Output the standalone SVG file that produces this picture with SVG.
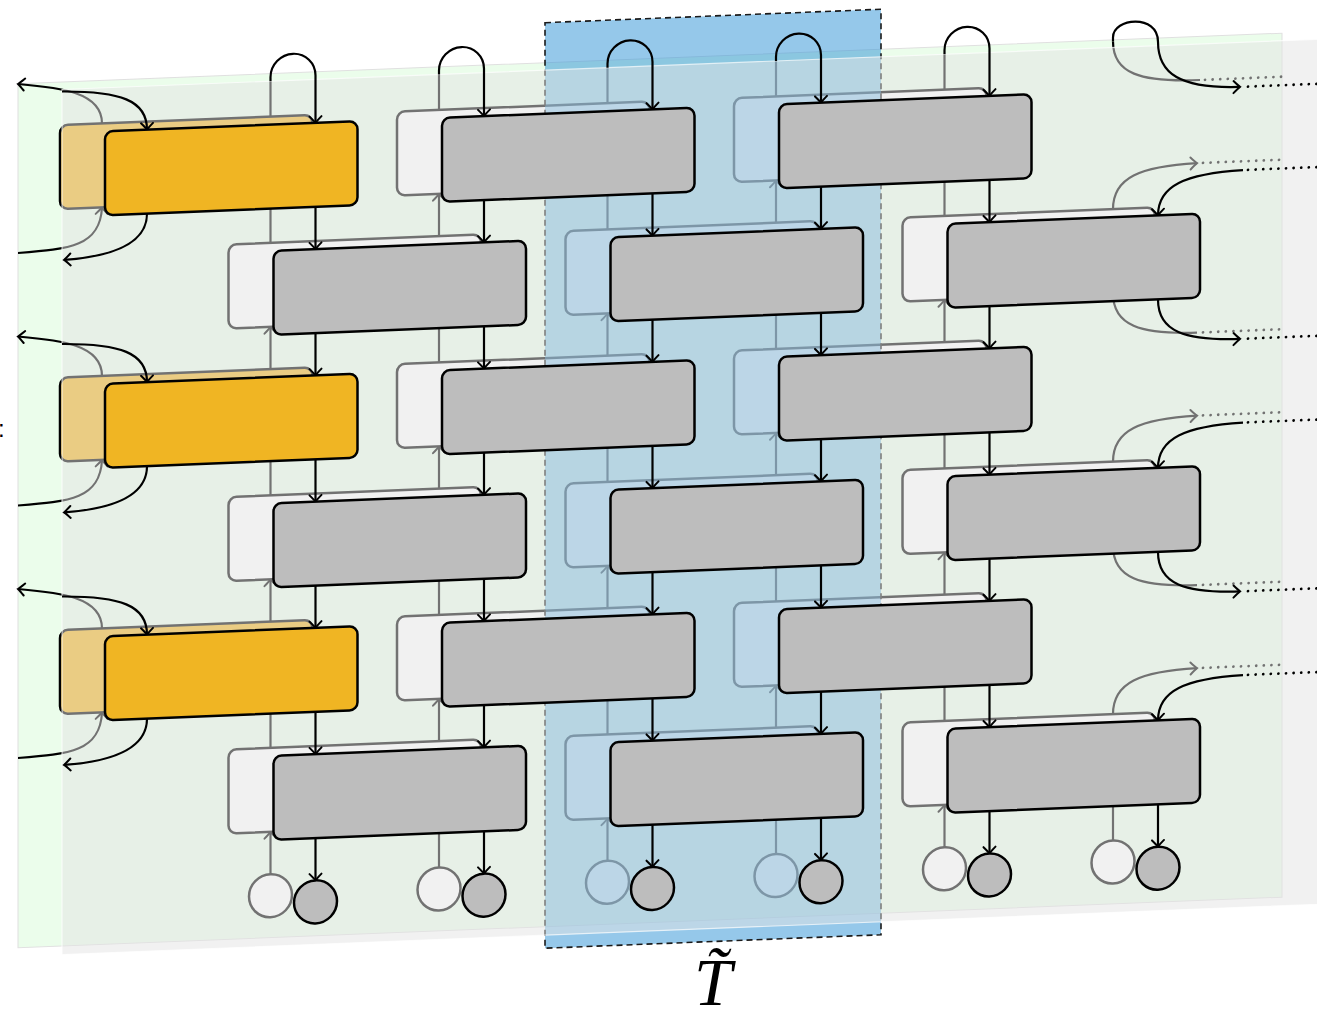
<svg xmlns="http://www.w3.org/2000/svg" width="1317" height="1021" viewBox="0 0 1317 1021">
<defs>
<marker id="ah" viewBox="-8 -8 16 16" markerWidth="16" markerHeight="16" refX="0" refY="0" orient="auto" markerUnits="userSpaceOnUse" overflow="visible"><path d="M-6.5,-6 Q-2,-1.5 0,0 Q-2,1.5 -6.5,6" fill="none" stroke="#000" stroke-width="2" stroke-linecap="round"/></marker>
<style>
.gf{fill:#bdbdbd;stroke:#000;stroke-width:2.5}
.yf{fill:#f0b523;stroke:#000;stroke-width:2.5}
.gb{fill:#fff;stroke:#000;stroke-width:2.5}
.yb{fill:#f0b523;stroke:#000;stroke-width:2.5}
.ln{fill:none;stroke:#000;stroke-width:2.2}
.ar{marker-end:url(#ah)}
.dot{fill:none;stroke:#000;stroke-width:2.8;stroke-linecap:round;stroke-dasharray:0 7.6}
</style>
</defs>
<rect width="1317" height="1021" fill="#fff"/>
<g transform="matrix(1,-0.04,0,1,0,0)">
<rect id="back-plane" x="18" y="84.5" width="1264" height="864" fill="#ebfdeb" stroke="#e0e0e0" stroke-width="1"/>
<g id="back-connectors">
<path class="ln" d="M270.5,127.5V92"/><path class="ln ar" d="M270.5,253.75V211.5"/><path class="ln ar" d="M270.5,380V337.75"/><path class="ln ar" d="M270.5,506.25V464"/><path class="ln ar" d="M270.5,632.5V590.25"/><path class="ln ar" d="M270.5,758.75V716.5"/><path class="ln ar" d="M270.5,885V842.75"/>
<path class="ln" d="M439,127.5V92"/><path class="ln ar" d="M439,253.75V211.5"/><path class="ln ar" d="M439,380V337.75"/><path class="ln ar" d="M439,506.25V464"/><path class="ln ar" d="M439,632.5V590.25"/><path class="ln ar" d="M439,758.75V716.5"/><path class="ln ar" d="M439,885V842.75"/>
<path class="ln" d="M607.5,127.5V92"/><path class="ln ar" d="M607.5,253.75V211.5"/><path class="ln ar" d="M607.5,380V337.75"/><path class="ln ar" d="M607.5,506.25V464"/><path class="ln ar" d="M607.5,632.5V590.25"/><path class="ln ar" d="M607.5,758.75V716.5"/><path class="ln ar" d="M607.5,885V842.75"/>
<path class="ln" d="M776,127.5V92"/><path class="ln ar" d="M776,253.75V211.5"/><path class="ln ar" d="M776,380V337.75"/><path class="ln ar" d="M776,506.25V464"/><path class="ln ar" d="M776,632.5V590.25"/><path class="ln ar" d="M776,758.75V716.5"/><path class="ln ar" d="M776,885V842.75"/>
<path class="ln" d="M944.5,127.5V92"/><path class="ln ar" d="M944.5,253.75V211.5"/><path class="ln ar" d="M944.5,380V337.75"/><path class="ln ar" d="M944.5,506.25V464"/><path class="ln ar" d="M944.5,632.5V590.25"/><path class="ln ar" d="M944.5,758.75V716.5"/><path class="ln ar" d="M944.5,885V842.75"/>
<path class="ln ar" d="M1113,885V842.75"/>
<path class="ln ar" d="M102,127.5C102,96 60,90 18,84.7"/><path class="ln ar" d="M18,253.7C70,252 100,250 102,211.5"/>
<path class="ln ar" d="M102,380C102,348.5 60,342.5 18,337.2"/><path class="ln ar" d="M18,506.2C70,504.5 100,502.5 102,464"/>
<path class="ln ar" d="M102,632.5C102,601 60,595 18,589.7"/><path class="ln ar" d="M18,758.7C70,757 100,755 102,716.5"/>
<path class="ln ar" d="M1113,253.75C1113,222 1140,212 1197,211"/><path class="dot" d="M1203,211H1282"/>
<path class="ln ar" d="M1113,506.25C1113,474.5 1140,464.5 1197,463.5"/><path class="dot" d="M1203,463.5H1282"/>
<path class="ln ar" d="M1113,758.75C1113,727 1140,717 1197,716"/><path class="dot" d="M1203,716H1282"/>
<path class="ln" d="M1113,337.75C1113,370 1140,380 1197,380.5"/><path class="dot" d="M1203,380.5H1282"/>
<path class="ln" d="M1113,590.25C1113,622.5 1140,632.5 1197,633"/><path class="dot" d="M1203,633H1282"/>
<path class="ln" d="M1200,128C1140,128 1113,118 1113,86"/><path class="dot" d="M1205,128H1282"/>
</g>
<g id="back-nodes">
<g id="A0-back"><rect class="yb" x="60" y="127.5" width="252.5" height="84" rx="8"/></g>
<g id="A1-back"><rect class="yb" x="60" y="380" width="252.5" height="84" rx="8"/></g>
<g id="A2-back"><rect class="yb" x="60" y="632.5" width="252.5" height="84" rx="8"/></g>
<g id="C0-back"><rect class="gb" x="397" y="127.5" width="252.5" height="84" rx="8"/></g>
<g id="C1-back"><rect class="gb" x="397" y="380" width="252.5" height="84" rx="8"/></g>
<g id="C2-back"><rect class="gb" x="397" y="632.5" width="252.5" height="84" rx="8"/></g>
<g id="E0-back"><rect class="gb" x="734" y="127.5" width="252.5" height="84" rx="8"/></g>
<g id="E1-back"><rect class="gb" x="734" y="380" width="252.5" height="84" rx="8"/></g>
<g id="E2-back"><rect class="gb" x="734" y="632.5" width="252.5" height="84" rx="8"/></g>
<g id="B0-back"><rect class="gb" x="228.5" y="253.75" width="252.5" height="84" rx="8"/></g>
<g id="B1-back"><rect class="gb" x="228.5" y="506.25" width="252.5" height="84" rx="8"/></g>
<g id="B2-back"><rect class="gb" x="228.5" y="758.75" width="252.5" height="84" rx="8"/></g>
<g id="D0-back"><rect class="gb" x="565.5" y="253.75" width="252.5" height="84" rx="8"/></g>
<g id="D1-back"><rect class="gb" x="565.5" y="506.25" width="252.5" height="84" rx="8"/></g>
<g id="D2-back"><rect class="gb" x="565.5" y="758.75" width="252.5" height="84" rx="8"/></g>
<g id="F0-back"><rect class="gb" x="902.5" y="253.75" width="252.5" height="84" rx="8"/></g>
<g id="F1-back"><rect class="gb" x="902.5" y="506.25" width="252.5" height="84" rx="8"/></g>
<g id="F2-back"><rect class="gb" x="902.5" y="758.75" width="252.5" height="84" rx="8"/></g>
<g id="s1-back"><circle class="gb" cx="270.5" cy="906.5" r="21.5"/></g>
<g id="s2-back"><circle class="gb" cx="439" cy="906.5" r="21.5"/></g>
<g id="s3-back"><circle class="gb" cx="607.5" cy="906.5" r="21.5"/></g>
<g id="s4-back"><circle class="gb" cx="776" cy="906.5" r="21.5"/></g>
<g id="s5-back"><circle class="gb" cx="944.5" cy="906.5" r="21.5"/></g>
<g id="s6-back"><circle class="gb" cx="1113" cy="906.5" r="21.5"/></g>
</g>
<rect id="band-T" x="545" y="44.5" width="336" height="925.5" fill="#2b91d5" fill-opacity="0.5" stroke="#1a1a1a" stroke-width="1.6" stroke-dasharray="6 4"/>
<rect id="front-plane" x="62" y="92" width="1300" height="865" fill="#e3e3e3" fill-opacity="0.5" stroke="#fff" stroke-opacity="0.7" stroke-width="1.2"/>
<g id="connectors">
<path class="ln ar" d="M270.5,92V88A22.5,22.5 0 0 1 315.5,88V135.5"/><path class="ln ar" d="M315.5,219.5V261.75"/><path class="ln ar" d="M315.5,345.75V388"/><path class="ln ar" d="M315.5,472V514.25"/><path class="ln ar" d="M315.5,598.25V640.5"/><path class="ln ar" d="M315.5,724.5V766.75"/><path class="ln ar" d="M315.5,850.75V893"/>
<path class="ln ar" d="M439,92V88A22.5,22.5 0 0 1 484,88V135.5"/><path class="ln ar" d="M484,219.5V261.75"/><path class="ln ar" d="M484,345.75V388"/><path class="ln ar" d="M484,472V514.25"/><path class="ln ar" d="M484,598.25V640.5"/><path class="ln ar" d="M484,724.5V766.75"/><path class="ln ar" d="M484,850.75V893"/>
<path class="ln ar" d="M607.5,92V88A22.5,22.5 0 0 1 652.5,88V135.5"/><path class="ln ar" d="M652.5,219.5V261.75"/><path class="ln ar" d="M652.5,345.75V388"/><path class="ln ar" d="M652.5,472V514.25"/><path class="ln ar" d="M652.5,598.25V640.5"/><path class="ln ar" d="M652.5,724.5V766.75"/><path class="ln ar" d="M652.5,850.75V893"/>
<path class="ln ar" d="M776,92V88A22.5,22.5 0 0 1 821,88V135.5"/><path class="ln ar" d="M821,219.5V261.75"/><path class="ln ar" d="M821,345.75V388"/><path class="ln ar" d="M821,472V514.25"/><path class="ln ar" d="M821,598.25V640.5"/><path class="ln ar" d="M821,724.5V766.75"/><path class="ln ar" d="M821,850.75V893"/>
<path class="ln ar" d="M944.5,92V88A22.5,22.5 0 0 1 989.5,88V135.5"/><path class="ln ar" d="M989.5,219.5V261.75"/><path class="ln ar" d="M989.5,345.75V388"/><path class="ln ar" d="M989.5,472V514.25"/><path class="ln ar" d="M989.5,598.25V640.5"/><path class="ln ar" d="M989.5,724.5V766.75"/><path class="ln ar" d="M989.5,850.75V893"/>
<path class="ln ar" d="M1158,850.75V893"/>
<path class="ln ar" d="M62,94C120,96 147,106 147,135.5"/><path class="ln ar" d="M147,219.5C147,250 110,261 64,262.5"/>
<path class="ln ar" d="M62,346.5C120,348.5 147,358.5 147,388"/><path class="ln ar" d="M147,472C147,502.5 110,513.5 64,515"/>
<path class="ln ar" d="M62,599C120,601 147,611 147,640.5"/><path class="ln ar" d="M147,724.5C147,755 110,766 64,767.5"/>
<path class="ln ar" d="M1243,219.75C1185,221 1158,232 1158,261.75"/><path class="dot" d="M1248,219.75H1322"/>
<path class="ln ar" d="M1243,472.25C1185,473.5 1158,484.5 1158,514.25"/><path class="dot" d="M1248,472.25H1322"/>
<path class="ln ar" d="M1243,724.75C1185,726 1158,737 1158,766.75"/><path class="dot" d="M1248,724.75H1322"/>
<path class="ln ar" d="M1158,345.75C1158,378 1185,388 1240,388.5"/><path class="dot" d="M1248,388.5H1322"/>
<path class="ln ar" d="M1158,598.25C1158,630.5 1185,640.5 1240,641"/><path class="dot" d="M1248,641H1322"/>
<path class="ln ar" d="M1113,86V82C1113,62 1158,60 1158,88C1158,120 1180,136 1240,136.5"/><path class="dot" d="M1248,136.5H1322"/>
</g>
<g id="nodes">
<g id="A0"><rect class="yf" x="105" y="135.5" width="252.5" height="84" rx="8"/></g>
<g id="A1"><rect class="yf" x="105" y="388" width="252.5" height="84" rx="8"/></g>
<g id="A2"><rect class="yf" x="105" y="640.5" width="252.5" height="84" rx="8"/></g>
<g id="C0"><rect class="gf" x="442" y="135.5" width="252.5" height="84" rx="8"/></g>
<g id="C1"><rect class="gf" x="442" y="388" width="252.5" height="84" rx="8"/></g>
<g id="C2"><rect class="gf" x="442" y="640.5" width="252.5" height="84" rx="8"/></g>
<g id="E0"><rect class="gf" x="779" y="135.5" width="252.5" height="84" rx="8"/></g>
<g id="E1"><rect class="gf" x="779" y="388" width="252.5" height="84" rx="8"/></g>
<g id="E2"><rect class="gf" x="779" y="640.5" width="252.5" height="84" rx="8"/></g>
<g id="B0"><rect class="gf" x="273.5" y="261.75" width="252.5" height="84" rx="8"/></g>
<g id="B1"><rect class="gf" x="273.5" y="514.25" width="252.5" height="84" rx="8"/></g>
<g id="B2"><rect class="gf" x="273.5" y="766.75" width="252.5" height="84" rx="8"/></g>
<g id="D0"><rect class="gf" x="610.5" y="261.75" width="252.5" height="84" rx="8"/></g>
<g id="D1"><rect class="gf" x="610.5" y="514.25" width="252.5" height="84" rx="8"/></g>
<g id="D2"><rect class="gf" x="610.5" y="766.75" width="252.5" height="84" rx="8"/></g>
<g id="F0"><rect class="gf" x="947.5" y="261.75" width="252.5" height="84" rx="8"/></g>
<g id="F1"><rect class="gf" x="947.5" y="514.25" width="252.5" height="84" rx="8"/></g>
<g id="F2"><rect class="gf" x="947.5" y="766.75" width="252.5" height="84" rx="8"/></g>
<g id="s1"><circle class="gf" cx="315.5" cy="914.5" r="21.5"/></g>
<g id="s2"><circle class="gf" cx="484" cy="914.5" r="21.5"/></g>
<g id="s3"><circle class="gf" cx="652.5" cy="914.5" r="21.5"/></g>
<g id="s4"><circle class="gf" cx="821" cy="914.5" r="21.5"/></g>
<g id="s5"><circle class="gf" cx="989.5" cy="914.5" r="21.5"/></g>
<g id="s6"><circle class="gf" cx="1158" cy="914.5" r="21.5"/></g>
</g>
</g>
<text x="-2" y="437" font-family="Liberation Sans, sans-serif" font-size="24" fill="#000">:</text>
<text id="label-T" x="713" y="1005" text-anchor="middle" font-family="Liberation Serif, DejaVu Serif, serif" font-style="italic" font-size="68" fill="#000">T̃</text>
</svg>
